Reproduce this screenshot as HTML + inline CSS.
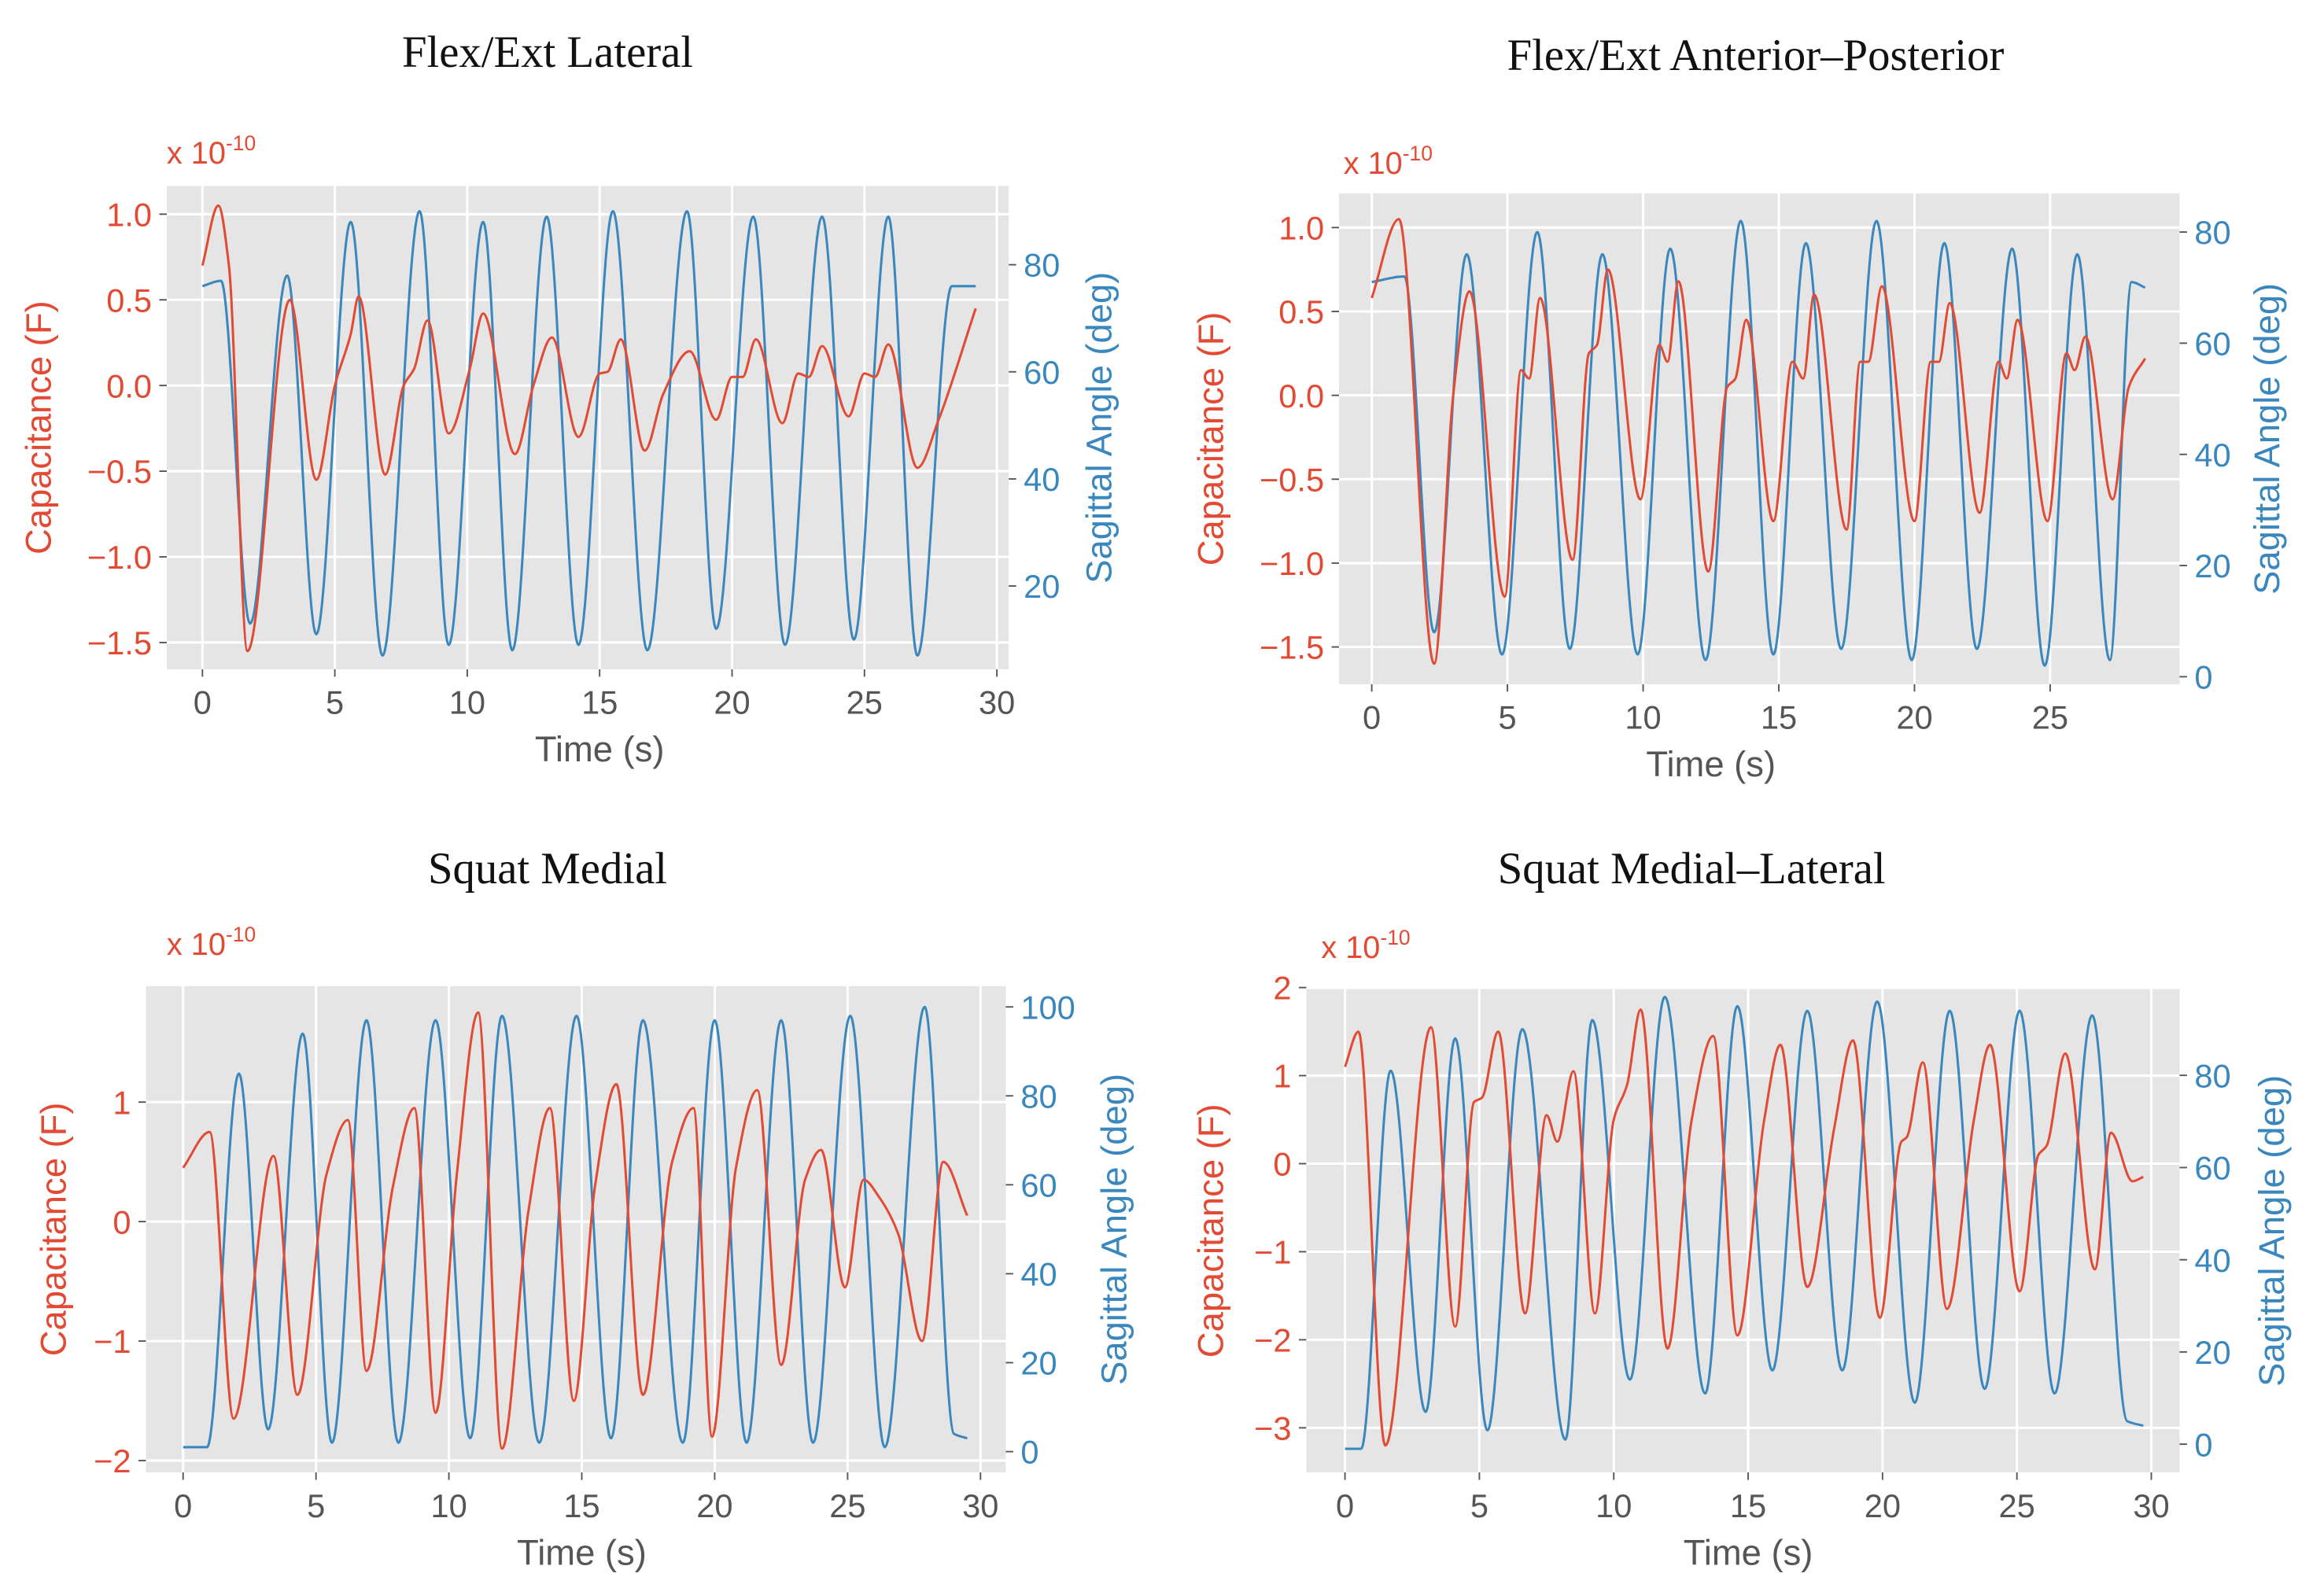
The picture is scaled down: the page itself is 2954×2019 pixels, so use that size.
<!DOCTYPE html>
<html><head><meta charset="utf-8">
<style>
html,body{margin:0;padding:0;background:#fff;}
svg{display:block;}
text{font-family:"Liberation Sans",sans-serif;}
.title{font-family:"Liberation Serif",serif;font-size:30px;fill:#111;}
</style></head>
<body>
<svg id="fig" width="2954" height="2019" viewBox="0 0 1562 1067.7" xmlns="http://www.w3.org/2000/svg"></svg>
<script>
// ---- Panel 1: Flex/Ext Lateral ----
const p1BlueT=[0,0.7,1.8,3.2,4.3,5.6,6.8,8.2,9.3,10.6,11.7,13.0,14.2,15.5,16.8,18.3,19.4,20.8,22.0,23.4,24.6,25.9,27.0,28.3,29.2];
const p1BlueV=[76,77,13,78,11,88,7,90,9,88,8,89,9,90,8,90,12,89,9,89,10,89,7,76,76];
const p1RedT=[0,0.6,1.0,1.7,3.3,4.3,5.0,5.6,5.9,6.9,7.6,8.0,8.5,9.3,10.1,10.6,11.8,12.5,13.2,14.2,15.0,15.3,15.8,16.7,17.4,18.4,19.4,20.0,20.4,20.9,21.9,22.5,22.9,23.4,24.4,25.0,25.4,25.9,27.0,27.8,29.2];
const p1RedV=[0.7,1.05,0.7,-1.55,0.5,-0.55,0,0.3,0.52,-0.52,0,0.1,0.38,-0.28,0.1,0.42,-0.4,0,0.28,-0.3,0.07,0.08,0.27,-0.38,-0.05,0.2,-0.2,0.05,0.05,0.27,-0.22,0.07,0.05,0.23,-0.18,0.07,0.05,0.24,-0.48,-0.2,0.45];
const p1LeftTicks=[-1.5,-1.0,-0.5,0.0,0.5,1.0];
const p1RightTicks=[20,40,60,80];
const p1XTicks=[0,5,10,15,20,25,30];
// ---- Panel 2: Flex/Ext Anterior–Posterior ----
const p2BlueT=[0,1.2,2.3,3.5,4.8,6.1,7.3,8.5,9.8,11.0,12.3,13.6,14.8,16.0,17.3,18.6,19.9,21.1,22.3,23.6,24.8,26.0,27.2,28.0,28.5];
const p2BlueV=[71,72,8,76,4,80,5,76,4,77,3,82,4,78,5,82,3,78,5,77,2,76,3,71,70];
const p2RedT=[0,1.0,2.3,3.0,3.6,4.9,5.5,5.8,6.2,7.4,8.0,8.3,8.7,9.9,10.6,10.9,11.3,12.4,13.1,13.4,13.8,14.8,15.5,15.9,16.3,17.5,18.0,18.3,18.8,20.0,20.6,20.9,21.3,22.4,23.1,23.4,23.8,24.9,25.6,25.9,26.3,27.3,27.9,28.5];
const p2RedV=[0.58,1.05,-1.6,0,0.62,-1.2,0.15,0.1,0.58,-0.98,0.25,0.3,0.75,-0.62,0.3,0.2,0.68,-1.05,0.05,0.1,0.45,-0.75,0.2,0.1,0.6,-0.8,0.2,0.2,0.65,-0.75,0.2,0.2,0.55,-0.7,0.2,0.1,0.45,-0.75,0.25,0.15,0.35,-0.62,0.05,0.22];
const p2LeftTicks=[-1.5,-1.0,-0.5,0.0,0.5,1.0];
const p2RightTicks=[0,20,40,60,80];
const p2XTicks=[0,5,10,15,20,25];
// ---- Panel 3: Squat Medial ----
const p3BlueT=[0,0.9,2.1,3.2,4.5,5.6,6.9,8.1,9.5,10.8,12.0,13.4,14.8,16.1,17.3,18.8,20.0,21.2,22.5,23.7,25.1,26.4,27.9,29.0,29.5];
const p3BlueV=[1,1,85,5,94,2,97,2,97,3,98,2,98,3,97,2,97,2,97,2,98,1,100,4,3];
const p3RedT=[0,1.0,1.9,3.4,4.3,5.4,6.2,6.9,7.9,8.7,9.5,10.3,11.1,12.0,13.0,13.8,14.7,15.5,16.3,17.3,18.4,19.2,19.9,20.8,21.6,22.5,23.4,24.0,24.9,25.6,26.2,26.9,27.8,28.6,29.5];
const p3RedV=[0.45,0.75,-1.65,0.55,-1.45,0.4,0.85,-1.25,0.3,0.95,-1.6,0.4,1.75,-1.9,0.1,0.95,-1.5,0.3,1.15,-1.45,0.5,0.95,-1.8,0.45,1.1,-1.2,0.35,0.6,-0.55,0.35,0.2,-0.1,-1.0,0.5,0.05];
const p3LeftTicks=[-2,-1,0,1];
const p3RightTicks=[0,20,40,60,80,100];
const p3XTicks=[0,5,10,15,20,25,30];
// ---- Panel 4: Squat Medial–Lateral ----
const p4BlueT=[0,0.6,1.7,3.0,4.1,5.3,6.6,8.2,9.2,10.6,11.9,13.4,14.6,15.9,17.2,18.5,19.8,21.2,22.5,23.8,25.1,26.4,27.8,29.1,29.7];
const p4BlueV=[-1,-1,81,7,88,3,90,1,92,14,97,11,95,16,94,16,96,9,94,12,94,11,93,5,4];
const p4RedT=[0,0.5,1.5,3.2,4.1,4.8,5.1,5.7,6.7,7.5,7.9,8.5,9.3,10.0,10.5,11.0,12.0,12.9,13.7,14.6,15.6,16.2,17.2,18.2,18.9,19.9,20.7,20.9,21.5,22.4,23.4,24.0,25.1,25.8,26.1,26.8,27.9,28.5,29.3,29.7];
const p4RedV=[1.1,1.5,-3.2,1.55,-1.85,0.7,0.75,1.5,-1.7,0.55,0.25,1.05,-1.7,0.5,0.9,1.75,-2.1,0.5,1.45,-1.95,0.5,1.35,-1.4,0.4,1.4,-1.75,0.25,0.3,1.15,-1.65,0.5,1.35,-1.45,0.1,0.2,1.25,-1.2,0.35,-0.2,-0.15];
const p4LeftTicks=[-3,-2,-1,0,1,2];
const p4RightTicks=[0,20,40,60,80];
const p4XTicks=[0,5,10,15,20,25,30];

const NS="http://www.w3.org/2000/svg";
const svg=document.getElementById('fig');
const RED="#E24A33",BLUE="#3A87BD";
function mk(tag,attrs,parent){const e=document.createElementNS(NS,tag);for(const k in attrs)e.setAttribute(k,attrs[k]);(parent||svg).appendChild(e);return e;}
function lin(v1,p1,v2,p2){return v=>p1+(v-v1)*(p2-p1)/(v2-v1);}
// monotone cubic (Fritsch–Carlson) path: no overshoot past keypoints
function smoothPath(xs,ys){
  const n=xs.length,d=[],m=new Array(n);
  for(let i=0;i<n-1;i++)d.push((ys[i+1]-ys[i])/(xs[i+1]-xs[i]));
  m[0]=d[0];m[n-1]=d[n-2];
  for(let i=1;i<n-1;i++){
    if(d[i-1]*d[i]<=0)m[i]=0;
    else{const h0=xs[i]-xs[i-1],h1=xs[i+1]-xs[i];const w1=2*h1+h0,w2=h1+2*h0;m[i]=(w1+w2)/(w1/d[i-1]+w2/d[i]);}
  }
  let p="M"+xs[0].toFixed(2)+","+ys[0].toFixed(2);
  for(let i=0;i<n-1;i++){
    const h=(xs[i+1]-xs[i])/3;
    p+=" C"+(xs[i]+h).toFixed(2)+","+(ys[i]+m[i]*h).toFixed(2)+" "+(xs[i+1]-h).toFixed(2)+","+(ys[i+1]-m[i+1]*h).toFixed(2)+" "+xs[i+1].toFixed(2)+","+ys[i+1].toFixed(2);
  }
  return p;
}
function fmt(v,dec){return (v<0?"\u2212":"")+Math.abs(v).toFixed(dec);}

function panel(cfg){
  const g=mk('g',{});
  
  
  const [L,T,R,B]=cfg.rect;
  const xs=lin(0,cfg.x0,cfg.xv,cfg.xp);
  const yl=lin(cfg.l[0],cfg.l[1],cfg.l[2],cfg.l[3]);
  const yr=lin(cfg.r[0],cfg.r[1],cfg.r[2],cfg.r[3]);
  const bg=mk('rect',{x:L,y:T,width:R-L,height:B-T,fill:"#E5E5E5"},g);
  
  
  cfg.xt.forEach(t=>{
    const gl=mk('line',{x1:xs(t),x2:xs(t),y1:T,y2:B,stroke:"#fff","stroke-width":1.6},g);
    
    
    mk('line',{x1:xs(t),x2:xs(t),y1:B,y2:B+5,stroke:"#555","stroke-width":1},g);
    const tl=mk('text',{x:xs(t),y:B+30,"font-size":22,fill:"#555","text-anchor":"middle"},g);
    tl.textContent=t;
    
    
  });
  cfg.lt.forEach(v=>{
    const gl=mk('line',{x1:L,x2:R,y1:yl(v),y2:yl(v),stroke:"#fff","stroke-width":1.6},g);
    
    
    mk('line',{x1:L-5,x2:L,y1:yl(v),y2:yl(v),stroke:"#555","stroke-width":1},g);
    const tl=mk('text',{x:L-10,y:yl(v)+8,"font-size":22,fill:RED,"text-anchor":"end"},g);
    tl.textContent=fmt(v,cfg.ldec);
    
    
  });
  cfg.rt.forEach(v=>{
    mk('line',{x1:R,x2:R+5,y1:yr(v),y2:yr(v),stroke:"#555","stroke-width":1},g);
    const tl=mk('text',{x:R+10,y:yr(v)+8,"font-size":22,fill:BLUE,"text-anchor":"start"},g);
    tl.textContent=v;
    
    
  });
  const bl=mk('path',{d:smoothPath(cfg.bt.map(xs),cfg.bv.map(yr)),fill:"none",stroke:BLUE,"stroke-width":1.6},g);
  
  
  const rl=mk('path',{d:smoothPath(cfg.rtT.map(xs),cfg.rv.map(yl)),fill:"none",stroke:RED,"stroke-width":1.6},g);
  
  
  const ti=mk('text',{x:cfg.title[1],y:cfg.title[2],"class":"title","text-anchor":"middle"},g);
  ti.textContent=cfg.title[0];
  
  
  const sc=mk('text',{x:cfg.sc[0],y:cfg.sc[1],"font-size":21,fill:RED},g);
  sc.textContent="x 10";
  const sup=mk('tspan',{"font-size":14,dy:-9},sc);sup.textContent="-10";
  
  
  const xl=mk('text',{x:(cfg.x0+xs(cfg.xt[cfg.xt.length-1]))/2,y:B+62,"font-size":24,fill:"#555","text-anchor":"middle"},g);
  xl.textContent="Time (s)";
  
  
  const cy=(T+B)/2;
  const ll=mk('text',{x:cfg.lx,y:cy,"font-size":24,fill:RED,"text-anchor":"middle",transform:`rotate(-90 ${cfg.lx} ${cy})`},g);
  ll.textContent="Capacitance (F)";
  
  
  const rl2=mk('text',{x:cfg.rx,y:cy,"font-size":24,fill:BLUE,"text-anchor":"middle",transform:`rotate(-90 ${cfg.rx} ${cy})`},g);
  rl2.textContent="Sagittal Angle (deg)";
  
  
}

panel({name:"panel-flex-ext-lateral",rect:[112,125,678,450],x0:136,xv:30,xp:670,l:[1.0,144,-1.5,432],r:[80,178,20,394],
  lt:p1LeftTicks,rt:p1RightTicks,xt:p1XTicks,ldec:1,bt:p1BlueT,bv:p1BlueV,rtT:p1RedT,rv:p1RedV,
  title:["Flex/Ext  Lateral",368,45],sc:[112,110],lx:34,rx:747});
panel({name:"panel-flex-ext-anterior-posterior",rect:[900,130,1465,460],x0:922,xv:25,xp:1378,l:[1.0,153,-1.5,435],r:[80,156,0,455],
  lt:p2LeftTicks,rt:p2RightTicks,xt:p2XTicks,ldec:1,bt:p2BlueT,bv:p2BlueV,rtT:p2RedT,rv:p2RedV,
  title:["Flex/Ext  Anterior\u2013Posterior",1180,47],sc:[903,117],lx:822,rx:1532});
panel({name:"panel-squat-medial",rect:[98,663,676,990],x0:123,xv:30,xp:659,l:[1,741,-2,982],r:[100,677,0,976],
  lt:p3LeftTicks,rt:p3RightTicks,xt:p3XTicks,ldec:0,bt:p3BlueT,bv:p3BlueV,rtT:p3RedT,rv:p3RedV,
  title:["Squat Medial",368,594],sc:[112,642],lx:44,rx:757});
panel({name:"panel-squat-medial-lateral",rect:[878,665,1465,990],x0:904,xv:30,xp:1446,l:[2,664,-3,960],r:[80,723,0,971],
  lt:p4LeftTicks,rt:p4RightTicks,xt:p4XTicks,ldec:0,bt:p4BlueT,bv:p4BlueV,rtT:p4RedT,rv:p4RedV,
  title:["Squat Medial\u2013Lateral",1137,594],sc:[888,644],lx:822,rx:1535});
</script>
</body></html>
